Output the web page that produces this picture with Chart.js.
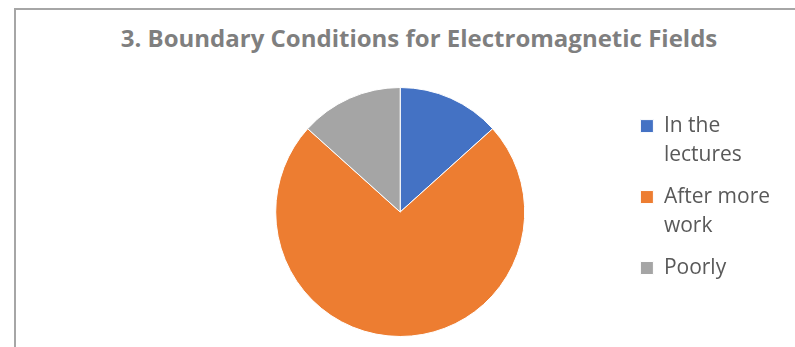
<!DOCTYPE html>
<html>
<head>
<meta charset="utf-8">
<script src="https://cdn.jsdelivr.net/npm/chart.js@4"></script>
<style>
  html, body { margin: 0; padding: 0; background: #fff; }
  #wrap { position: relative; width: 795px; height: 347px; overflow: hidden; }
  #frame { position: absolute; left: 14px; top: 8px; width: 800px; height: 400px;
           border-left: 2px solid #a6a6a6; border-top: 2px solid #a6a6a6; }
  #title { position: absolute; left: 0; top: 21px; width: 838px; text-align: center;
           font: 700 24px "Open Sans", sans-serif; color: #7f7f7f; white-space: nowrap; }
  #box { position: absolute; left: 16px; top: 70px; width: 779px; height: 277px; }
</style>
</head>
<body>
<div id="wrap">
  <div id="frame"></div>
  <div id="title">3. Boundary Conditions for Electromagnetic Fields</div>
  <div id="box"><canvas id="myChart"></canvas></div>
</div>
<script>
// legend labels are split into lines the way they wrap on the sheet
const categories = [['In the', 'lectures'], ['After more', 'work'], ['Poorly']];
const answers = [2, 11, 2];
const colours = ['#4472c4', '#ed7d31', '#a5a5a5'];

const ctx = document.getElementById('myChart').getContext('2d');
const myChart = new Chart(ctx, {
    type: 'pie',
    data: {
        labels: categories,
        datasets: [{
            label: '3. Boundary Conditions for Electromagnetic Fields',
            data: answers,
            backgroundColor: colours,
            borderColor: '#ffffff',
            borderWidth: 1,
        }]
    },
    options: {
        responsive: true,
        maintainAspectRatio: false,
        animation: false,
        layout: {
            padding: { left: 157, right: 15, top: 17, bottom: 10 },
        },
        plugins: {
            legend: {
                position: 'right',
                align: 'start',
                // empty title only reserves a little room above the first entry
                title: { display: true, text: '', padding: 0, font: { size: 13, lineHeight: 1.2 } },
                labels: {
                    boxWidth: 13,
                    boxHeight: 13,
                    padding: 13,
                    color: '#595959',
                    font: { family: 'Open Sans', size: 21, lineHeight: 1.38 },
                },
            },
            tooltip: { enabled: false },
        }
    }
});
</script>
</body>
</html>
